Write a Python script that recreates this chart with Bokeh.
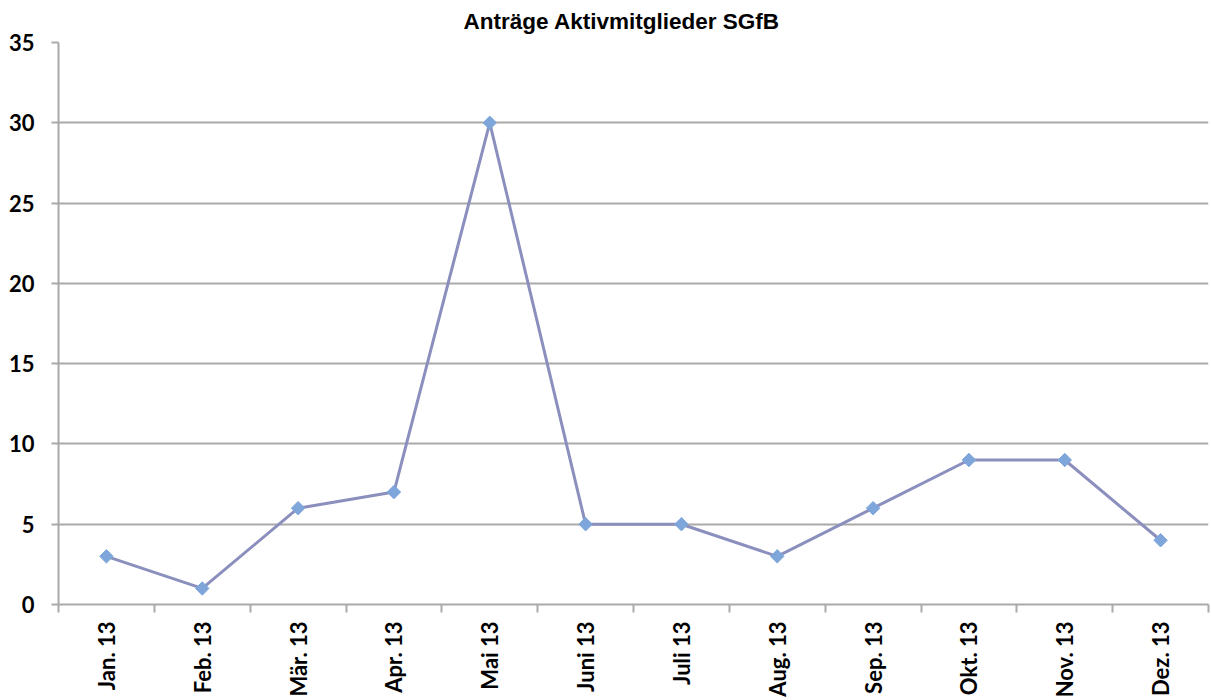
import math
from bokeh.plotting import figure
from bokeh.models import FixedTicker, Range1d
from bokeh.embed import file_html
from bokeh.resources import INLINE

months = ["Jan. 13", "Feb. 13", "Mär. 13", "Apr. 13", "Mai 13", "Juni 13",
          "Juli 13", "Aug. 13", "Sep. 13", "Okt. 13", "Nov. 13", "Dez. 13"]
values = [3, 1, 6, 7, 30, 5, 5, 3, 6, 9, 9, 4]
y_ticks = [0, 5, 10, 15, 20, 25, 30, 35]

xs = [i + 0.5 for i in range(len(months))]

GRID = "#A9A9A9"
LINE = "#8B8FBD"
MARK = "#7EA6DA"
FONT = "Lato"

p = figure(width=1210, height=700, output_backend="svg", toolbar_location=None,
           x_range=Range1d(0, len(months)), y_range=Range1d(0, 35),
           min_border_left=58, min_border_right=2, min_border_top=42, min_border_bottom=95,
           title="Anträge Aktivmitglieder SGfB")
p.outline_line_color = None
p.background_fill_color = "white"

p.title.text_font = "Liberation Sans"
p.title.text_font_size = "22.5px"
p.title.text_font_style = "bold"
p.title.align = "left"
p.title.offset = 405
p.title.standoff = 14
p.title.vertical_align = "top"
p.title.text_color = "black"

p.line(xs, values, line_color=LINE, line_width=3)
p.scatter(xs, values, marker="square", angle=math.pi / 4, size=9.5,
          fill_color=MARK, line_color=MARK)

# y axis
p.yaxis.ticker = FixedTicker(ticks=y_ticks)
p.yaxis.axis_line_color = GRID
p.yaxis.axis_line_width = 2
p.yaxis.major_tick_line_color = GRID
p.yaxis.major_tick_line_width = 2
p.yaxis.major_tick_out = 7
p.yaxis.major_tick_in = 0
p.yaxis.minor_tick_line_color = None
p.yaxis.major_label_text_font = FONT
p.yaxis.major_label_text_font_style = "bold"
p.yaxis.major_label_text_font_size = "22px"
p.yaxis.major_label_text_color = "black"
p.yaxis.major_label_standoff = 17

# x axis
p.xaxis.ticker = FixedTicker(ticks=xs, minor_ticks=list(range(len(months) + 1)))
p.xaxis.major_label_overrides = {x: m for x, m in zip(xs, months)}
p.xaxis.major_label_orientation = 1.5708
p.xaxis.axis_line_color = GRID
p.xaxis.axis_line_width = 2
p.xaxis.major_tick_line_color = None
p.xaxis.minor_tick_line_color = GRID
p.xaxis.minor_tick_line_width = 2
p.xaxis.minor_tick_out = 8
p.xaxis.minor_tick_in = 0
p.xaxis.major_label_text_font = FONT
p.xaxis.major_label_text_font_style = "bold"
p.xaxis.major_label_text_font_size = "22px"
p.xaxis.major_label_text_color = "black"
p.xaxis.major_label_standoff = 9

p.xgrid.grid_line_color = None
p.ygrid.ticker = FixedTicker(ticks=y_ticks)
p.ygrid.grid_line_color = GRID
p.ygrid.grid_line_width = 2

open("out.html", "w").write(file_html(p, INLINE))
